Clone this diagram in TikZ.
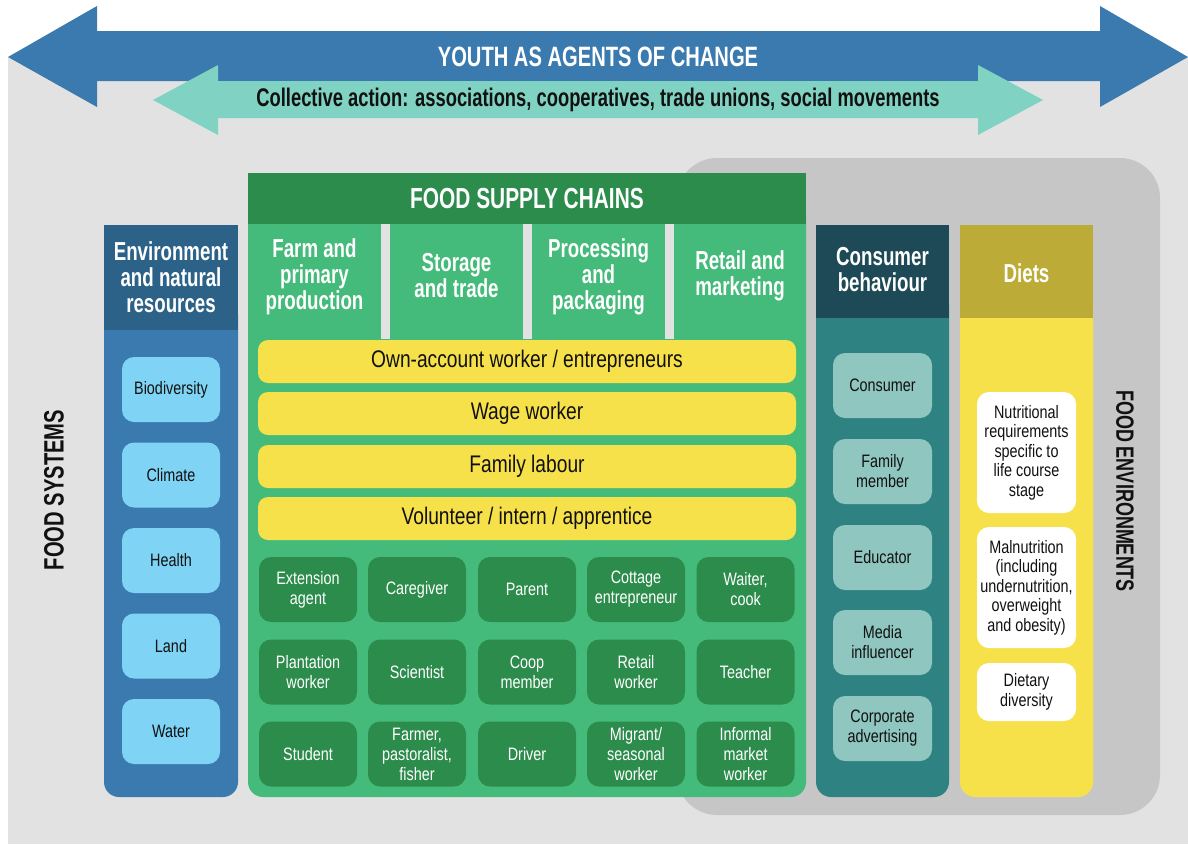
\documentclass[tikz,border=0pt]{standalone}
\usepackage{fontspec}
\setmainfont[FakeStretch=0.8, BoldFeatures={FakeStretch=0.72}]{Liberation Sans}
\definecolor{bggray}{HTML}{E2E2E2}
\definecolor{envgray}{HTML}{C6C6C6}
\definecolor{bluearrow}{HTML}{3A7AAE}
\definecolor{tealarrow}{HTML}{80D3C3}
\definecolor{envhead}{HTML}{2C6287}
\definecolor{envbody}{HTML}{3B7AAE}
\definecolor{envbox}{HTML}{7FD4F5}
\definecolor{schead}{HTML}{2C8C4C}
\definecolor{scbody}{HTML}{45BB7B}
\definecolor{yellowfill}{HTML}{F7E14B}
\definecolor{conshead}{HTML}{1E4A58}
\definecolor{consbody}{HTML}{2E8282}
\definecolor{consbox}{HTML}{8FC6BF}
\definecolor{dietshead}{HTML}{BDAB37}
\definecolor{ink}{HTML}{111111}
\tikzset{
  x=1pt, y=-1pt,
  boxbase/.style={rounded corners=12pt, inner sep=0pt, align=center, font=\fontsize{18}{20}\selectfont},
  envitem/.style={boxbase, fill=envbox, text=ink, minimum width=98pt, minimum height=65pt},
  roleitem/.style={boxbase, fill=schead, text=white, minimum width=98pt, minimum height=65pt},
  consitem/.style={boxbase, fill=consbox, text=ink, minimum width=99pt, minimum height=65pt},
  dietitem/.style={boxbase, fill=white, text=ink, minimum width=99pt, font=\fontsize{18}{19.5}\selectfont},
  workbar/.style={rounded corners=10pt, fill=yellowfill, text=ink, inner sep=0pt, minimum width=538pt, minimum height=43pt, font=\fontsize{24}{26}\selectfont},
  headtext/.style={text=white, align=center, inner sep=0pt, font=\bfseries\fontsize{26}{26}\selectfont},
  sidetitle/.style={text=ink, inner sep=0pt, font=\bfseries\fontsize{28}{30}\selectfont},
}
\begin{document}
\begin{tikzpicture}
\useasboundingbox (0,0) rectangle (1188,844);
\fill[white] (0,0) rectangle (1188,844);
% backgrounds
\fill[bggray] (8,57) rectangle (1188,844);
\fill[envgray, rounded corners=40pt] (677,158) rectangle (1160,815);
% arrows
\fill[bluearrow] (8,57) -- (97,6) -- (97,31) -- (1100,31) -- (1100,6) -- (1188,57) -- (1100,107) -- (1100,81) -- (97,81) -- (97,107) -- cycle;
\fill[tealarrow] (153,100) -- (218,65) -- (218,81) -- (978,81) -- (978,65) -- (1043,100) -- (978,135) -- (978,118) -- (218,118) -- (218,135) -- cycle;
\node[text=white, inner sep=0pt, font=\bfseries\fontsize{28}{30}\selectfont] (youth) at (598,57) {YOUTH AS AGENTS OF CHANGE};
\node[text=ink, inner sep=0pt, font=\bfseries\fontsize{25.5}{27}\selectfont] (collective) at (598,100) {Collective action: associations, cooperatives, trade unions, social movements};
% side titles
\node[sidetitle, rotate=90] (foodsys) at (54,490) {FOOD SYSTEMS};
\node[sidetitle, rotate=-90, font=\bfseries\fontsize{25}{27}\selectfont] (foodenv) at (1125,491) {FOOD ENVIRONMENTS};
% environment column
\fill[envbody, rounded corners=15pt] (104,300) rectangle (238,797);
\fill[envhead] (104,225) rectangle (238,330);
\node[headtext] (envh) at (171,277) {Environment\\and natural\\resources};
\node[envitem] (bio) at (171,389.5) {Biodiversity};
\node[envitem] (clim) at (171,475) {Climate};
\node[envitem] (health) at (171,560.5) {Health};
\node[envitem] (land) at (171,646) {Land};
\node[envitem] (water) at (171,731.5) {Water};
% food supply chains
\fill[scbody, rounded corners=15pt] (248,200) rectangle (806,797);
\fill[schead] (248,173) rectangle (806,224);
\fill[bggray] (381,224) rectangle (390,339);
\fill[bggray] (523,224) rectangle (532,339);
\fill[bggray] (665,224) rectangle (674,339);
\node[text=white, inner sep=0pt, font=\bfseries\fontsize{29}{31}\selectfont] (fsc) at (527,199) {FOOD SUPPLY CHAINS};
\node[headtext] (farm) at (314.5,277) {Farm and\\primary\\production};
\node[headtext] (storage) at (456.5,276) {Storage\\and trade};
\node[headtext] (proc) at (598.5,277) {Processing\\and\\packaging};
\node[headtext] (retail) at (740,276) {Retail and\\marketing};
\node[workbar] (own) at (527,361.5) {Own-account worker / entrepreneurs};
\node[workbar] (wage) at (527,413.5) {Wage worker};
\node[workbar] (family) at (527,466.5) {Family labour};
\node[workbar] (vol) at (527,518.5) {Volunteer / intern / apprentice};
\node[roleitem] (r11) at (308,589.5) {Extension\\agent};
\node[roleitem] (r12) at (417,589.5) {Caregiver};
\node[roleitem] (r13) at (527,589.5) {Parent};
\node[roleitem] (r14) at (636,589.5) {Cottage\\entrepreneur};
\node[roleitem] (r15) at (745.5,589.5) {Waiter,\\cook};
\node[roleitem] (r21) at (308,672) {Plantation\\worker};
\node[roleitem] (r22) at (417,672) {Scientist};
\node[roleitem] (r23) at (527,672) {Coop\\member};
\node[roleitem] (r24) at (636,672) {Retail\\worker};
\node[roleitem] (r25) at (745.5,672) {Teacher};
\node[roleitem] (r31) at (308,754) {Student};
\node[roleitem] (r32) at (417,754) {Farmer,\\pastoralist,\\fisher};
\node[roleitem] (r33) at (527,754) {Driver};
\node[roleitem] (r34) at (636,754) {Migrant/\\seasonal\\worker};
\node[roleitem] (r35) at (745.5,754) {Informal\\market\\worker};
% consumer behaviour
\fill[consbody, rounded corners=15pt] (816,290) rectangle (949,797);
\fill[conshead] (816,225) rectangle (949,318);
\node[headtext] (consh) at (882.5,270) {Consumer\\behaviour};
\node[consitem] (c1) at (882.5,385.5) {Consumer};
\node[consitem] (c2) at (882.5,471.5) {Family\\member};
\node[consitem] (c3) at (882.5,557.5) {Educator};
\node[consitem] (c4) at (882.5,642.5) {Media\\influencer};
\node[consitem] (c5) at (882.5,728.5) {Corporate\\advertising};
% diets
\fill[yellowfill, rounded corners=15pt] (960,290) rectangle (1093,797);
\fill[dietshead] (960,225) rectangle (1093,318);
\node[headtext] (dietsh) at (1026.5,273) {Diets};
\node[dietitem, minimum height=121pt] (d1) at (1026.5,452.5) {Nutritional\\requirements\\specific to\\life course\\stage};
\node[dietitem, minimum height=121pt] (d2) at (1026.5,587.5) {Malnutrition\\(including\\undernutrition,\\overweight\\and obesity)};
\node[dietitem, minimum height=58pt] (d3) at (1026.5,692) {Dietary\\diversity};
\end{tikzpicture}
\end{document}
